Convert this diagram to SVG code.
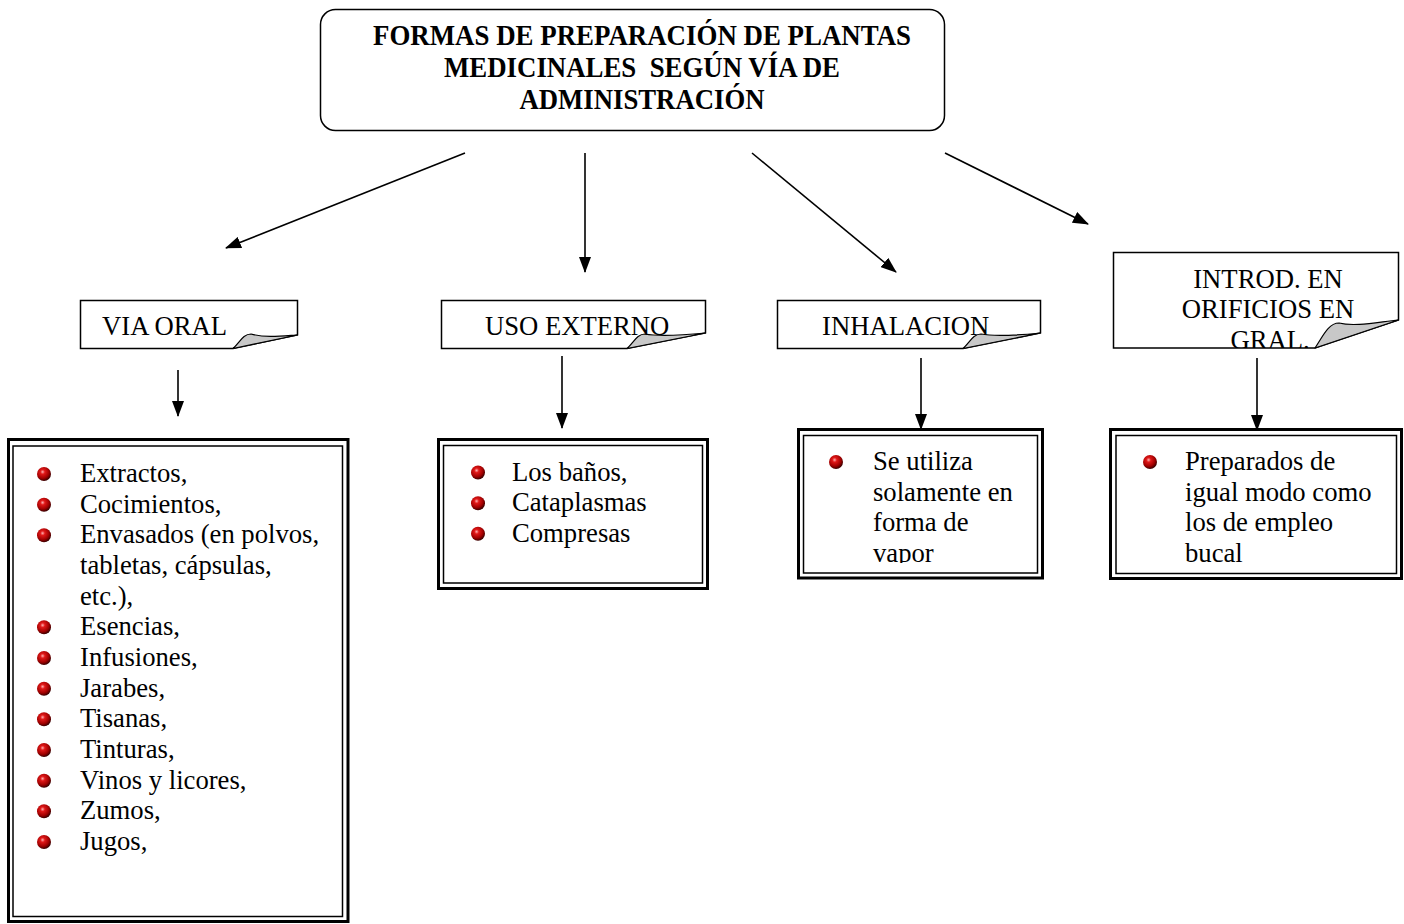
<svg xmlns="http://www.w3.org/2000/svg" width="1404" height="924" viewBox="0 0 1404 924">
<style>
.t{font-family:"Liberation Serif","Times New Roman",serif;font-size:26.67px;fill:#000}
.tb{font-family:"Liberation Serif","Times New Roman",serif;font-size:30px;font-weight:bold;fill:#000}
.note{fill:#fff;stroke:#000;stroke-width:1.5}
.flap{fill:#c8c8c8;stroke:#000;stroke-width:1.2;stroke-linejoin:round}
.outer{fill:#fff;stroke:#000;stroke-width:3}
.inner{fill:none;stroke:#000;stroke-width:1.5}
.conn{stroke:#000;stroke-width:1.6;fill:none;marker-end:url(#ah)}
</style>
<defs>
<marker id="ah" markerUnits="userSpaceOnUse" markerWidth="16" markerHeight="12" refX="15" refY="6" orient="auto">
<path d="M0,0 L16,6 L0,12 Z" fill="#000"/>
</marker>
<radialGradient id="ball" cx="0.4" cy="0.35" r="0.65">
<stop offset="0" stop-color="#ffb0b0"/>
<stop offset="0.25" stop-color="#e01818"/>
<stop offset="0.7" stop-color="#a00000"/>
<stop offset="1" stop-color="#3a0000"/>
</radialGradient>
<clipPath id="clipInh"><rect x="800" y="430" width="240" height="133"/></clipPath>
<clipPath id="clipIntrod"><rect x="1110" y="250" width="292" height="98"/></clipPath>
</defs>

<g id="title">
<rect x="320.5" y="9.5" width="624" height="121" rx="15" ry="15" fill="#fff" stroke="#000" stroke-width="1.5"/>
<text class="tb" x="642" y="45" text-anchor="middle" textLength="538" lengthAdjust="spacingAndGlyphs">FORMAS DE PREPARACIÓN DE PLANTAS</text>
<text class="tb" x="642" y="77" text-anchor="middle" textLength="396" lengthAdjust="spacingAndGlyphs" xml:space="preserve">MEDICINALES  SEGÚN VÍA DE</text>
<text class="tb" x="642" y="109" text-anchor="middle" textLength="245" lengthAdjust="spacingAndGlyphs">ADMINISTRACIÓN</text>
</g>

<g id="connectors">
<line class="conn" x1="465" y1="153" x2="226" y2="248"/>
<line class="conn" x1="585" y1="153" x2="585" y2="272"/>
<line class="conn" x1="752" y1="153" x2="896" y2="272"/>
<line class="conn" x1="945" y1="153" x2="1088" y2="224"/>
<line class="conn" x1="178" y1="370" x2="178" y2="416"/>
<line class="conn" x1="562" y1="356" x2="562" y2="428"/>
<line class="conn" x1="921" y1="358" x2="921" y2="429"/>
<line class="conn" x1="1257" y1="358" x2="1257" y2="430"/>
</g>

<g id="via-oral">
<path class="note" d="M80.5,300.5 H297.5 V335 L233,348.5 H80.5 Z"/>
<path class="flap" d="M233,348.5 C240,342 243,334 251,334 C265,338 282,336 297.5,335 Z"/>
<text class="t" x="102" y="335">VIA ORAL</text>
</g>

<g id="uso-externo">
<path class="note" d="M441.5,300.5 H705.5 V333 L627,348.5 H441.5 Z"/>
<path class="flap" d="M627,348.5 C634,342 637,334 645,334 C660,337 685,335 705.5,333 Z"/>
<text class="t" x="485" y="335">USO EXTERNO</text>
</g>

<g id="inhalacion">
<path class="note" d="M777.5,300.5 H1040.5 V333 L963,348.5 H777.5 Z"/>
<path class="flap" d="M963,348.5 C970,342 973,334 981,334 C996,337 1020,335 1040.5,333 Z"/>
<text class="t" x="822" y="335">INHALACION</text>
</g>

<g id="introd">
<path class="note" d="M1113.5,252.5 H1398.5 V320 L1315,348 H1113.5 Z"/>
<path class="flap" d="M1315,348 C1322,338 1328,323 1339,323 C1355,327 1378,322 1398.5,320 Z"/>
<g clip-path="url(#clipIntrod)">
<text class="t" x="1268" y="287.5" text-anchor="middle">INTROD. EN</text>
<text class="t" x="1268" y="318" text-anchor="middle">ORIFICIOS EN</text>
<text class="t" x="1270" y="349" text-anchor="middle">GRAL.</text>
</g>
</g>

<g id="oral-list">
<rect class="outer" x="8.5" y="439.5" width="339.5" height="482"/>
<rect class="inner" x="13" y="446" width="329.5" height="470.5"/>
<circle cx="44" cy="474" r="7" fill="url(#ball)"/>
<circle cx="44" cy="504.7" r="7" fill="url(#ball)"/>
<circle cx="44" cy="535.3" r="7" fill="url(#ball)"/>
<circle cx="44" cy="627.3" r="7" fill="url(#ball)"/>
<circle cx="44" cy="658" r="7" fill="url(#ball)"/>
<circle cx="44" cy="688.7" r="7" fill="url(#ball)"/>
<circle cx="44" cy="719.3" r="7" fill="url(#ball)"/>
<circle cx="44" cy="750" r="7" fill="url(#ball)"/>
<circle cx="44" cy="780.7" r="7" fill="url(#ball)"/>
<circle cx="44" cy="811.3" r="7" fill="url(#ball)"/>
<circle cx="44" cy="842" r="7" fill="url(#ball)"/>
<text class="t" x="80" y="482">Extractos,</text>
<text class="t" x="80" y="512.7">Cocimientos,</text>
<text class="t" x="80" y="543.3">Envasados (en polvos,</text>
<text class="t" x="80" y="574">tabletas, cápsulas,</text>
<text class="t" x="80" y="604.7">etc.),</text>
<text class="t" x="80" y="635.3">Esencias,</text>
<text class="t" x="80" y="666">Infusiones,</text>
<text class="t" x="80" y="696.7">Jarabes,</text>
<text class="t" x="80" y="727.3">Tisanas,</text>
<text class="t" x="80" y="758">Tinturas,</text>
<text class="t" x="80" y="788.7">Vinos y licores,</text>
<text class="t" x="80" y="819.3">Zumos,</text>
<text class="t" x="80" y="850">Jugos,</text>
</g>

<g id="uso-list">
<rect class="outer" x="438.5" y="439.5" width="269" height="149"/>
<rect class="inner" x="443.5" y="445.5" width="259" height="137.5"/>
<circle cx="478" cy="472.5" r="7" fill="url(#ball)"/>
<circle cx="478" cy="503.2" r="7" fill="url(#ball)"/>
<circle cx="478" cy="533.8" r="7" fill="url(#ball)"/>
<text class="t" x="512" y="480.5">Los baños,</text>
<text class="t" x="512" y="511.2">Cataplasmas</text>
<text class="t" x="512" y="541.8">Compresas</text>
</g>

<g id="inhalacion-list">
<rect class="outer" x="798.5" y="429.5" width="244" height="148.5"/>
<rect class="inner" x="803.5" y="435.5" width="234" height="137.5"/>
<circle cx="836" cy="462" r="7" fill="url(#ball)"/>
<g clip-path="url(#clipInh)">
<text class="t" x="873" y="470">Se utiliza</text>
<text class="t" x="873" y="500.7">solamente en</text>
<text class="t" x="873" y="531.3">forma de</text>
<text class="t" x="873" y="562">vapor</text>
</g>
</g>

<g id="introd-list">
<rect class="outer" x="1110.5" y="429.5" width="291" height="149"/>
<rect class="inner" x="1116" y="435.5" width="280.5" height="138"/>
<circle cx="1150" cy="462" r="7" fill="url(#ball)"/>
<text class="t" x="1185" y="470">Preparados de</text>
<text class="t" x="1185" y="500.7">igual modo como</text>
<text class="t" x="1185" y="531.3">los de empleo</text>
<text class="t" x="1185" y="562">bucal</text>
</g>
</svg>
